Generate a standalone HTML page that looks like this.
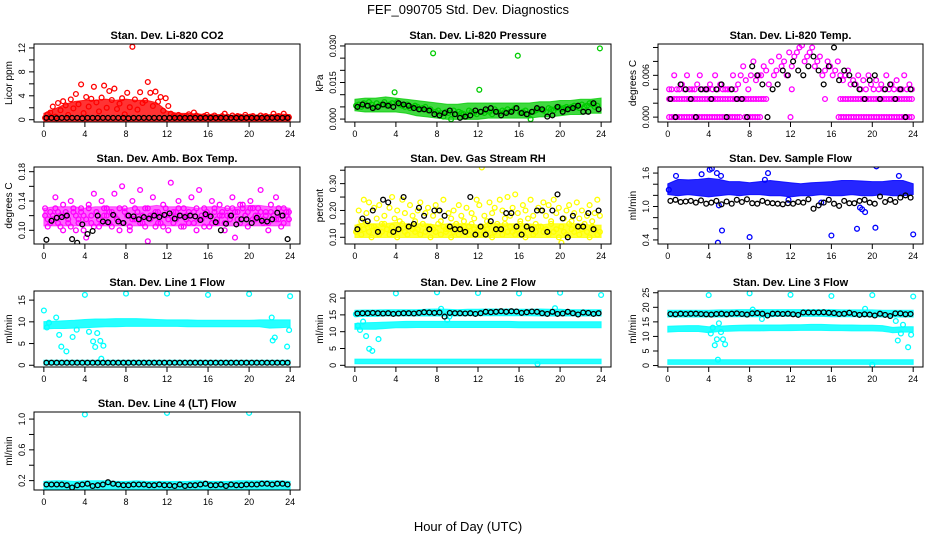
<!DOCTYPE html>
<html><head><meta charset="utf-8"><title>FEF_090705 Std. Dev. Diagnostics</title>
<style>
html,body{margin:0;padding:0;background:#fff;}
svg{display:block;font-family:"Liberation Sans",Arial,sans-serif;}
</style></head>
<body>
<svg id="fig" width="936" height="540" viewBox="0 0 936 540" xmlns="http://www.w3.org/2000/svg">
<rect x="0" y="0" width="936" height="540" fill="#fff"/>
<text x="468" y="14" text-anchor="middle" font-size="13">FEF_090705  Std. Dev. Diagnostics</text>
<text x="468" y="531" text-anchor="middle" font-size="13">Hour of Day (UTC)</text>
</svg>
<script>
const n = null;
// ---- x ticks (hours) ----
const hourTicks = [0,4,8,12,16,20,24];

// ---- CO2 ----
const co2BandLo = [0,0,0,0,0,0,0,0,0,0,0,0,0,0,0,0,0,0,0,0,0,0,0,0,0];
const co2BandHi = [0.8,1.5,2.3,2.8,3.0,3.0,3.2,3.0,3.2,3.0,3.0,2.6,1.2,0.8,0.8,0.7,0.6,0.6,0.5,0.6,0.6,0.5,0.6,0.7,0.6];
const co2Pts = [0.3,0.9,1.2,2.2,0.5,2.8,1.6,3.1,2.4,0.8,3.4,1.9,4.3,2.6,5.9,1.1,3.8,2.2,3.5,5.5,2.9,1.4,3.7,5.7,2.0,4.8,3.3,5.2,1.8,2.7,3.6,0.9,4.5,2.1,12.2,3.4,1.7,4.6,2.8,3.2,6.3,4.5,2.3,4.7,3.0,3.8,1.5,3.6,
2.3,1.0,0.6,0.4,0.8,0.5,0.3,0.6,0.9,0.4,1.2,0.7,0.5,0.3,0.6,0.8,0.4,0.5,0.7,0.3,0.4,0.6,1.0,0.5,0.3,0.7,0.4,0.6,0.5,0.3,0.8,0.4,0.5,0.6,0.3,0.4,0.7,0.5,0.6,0.3,0.4,1.0,0.5,0.6,0.3,1.0,0.5,0.4];
const co2Blk = [0.3,0.3,0.25,0.3,0.3,0.3,0.3,0.25,0.3,0.3,0.3,0.3,0.3,0.3,0.3,0.3,0.25,0.3,0.3,0.3,0.3,0.3,0.3,0.3,0.3,0.3,0.3,0.3,0.3,0.3,0.3,0.3,0.3,0.3,0.3,0.3,0.3,0.3,0.3,0.3,0.3,0.3,0.3,0.3,0.3,0.3,0.3,0.3];
const co2Ticks = [0,2,4,6,8,10,12];
const co2Labels = ["0","","4","","8","","12"];

// ---- Pressure ----
const presBandLo = [0.004,0.0035,0.0035,0.0035,0.0035,0.003,0.002,0.0015,0.001,0.0005,0.0005,0.0005,0.0005,0.001,0.001,0.001,0.001,0.001,0.0015,0.0015,0.002,0.0025,0.0025,0.003,0.003];
const presBandHi = [0.0075,0.008,0.008,0.0085,0.008,0.0075,0.007,0.0065,0.006,0.0055,0.0055,0.006,0.006,0.006,0.006,0.006,0.006,0.006,0.0065,0.0065,0.007,0.007,0.0075,0.0075,0.008];
const presPts = [.0055,.006,.005,.0065,.0055,.007,.006,.005,.0065,.0055,.006,.007,
.0055,.006,.0065,.011,.007,.006,.0055,.005,.006,.0045,.005,.0055,
.005,.004,.0045,.005,.0035,.004,.027,.003,.0035,.0025,.001,.003,
.0025,.0,.0035,.002,.003,.0025,.002,.001,.0035,.003,.0025,.002,
.012,.003,.0025,.0035,.003,.002,.004,.003,.0025,.0035,.003,.004,
.003,.0035,.0045,.026,.0025,.003,.0035,.002,.0,.003,.0035,.004,
.004,.0035,.003,.0045,.004,.0035,.0045,.005,.004,.0045,.005,.0045,
.005,.0055,.005,.0045,.006,.005,.0055,.0065,.006,.005,.0055,.029];
const presBlk = [.005,.006,.0055,.0045,.005,.006,.0055,.005,.0065,.006,.0055,.0045,.004,.004,.0035,.002,.0015,.0025,.0035,.002,.0005,.001,.0015,.0035,.003,.004,.0045,.003,.0015,.0025,.003,.0045,.0025,.002,.003,.0045,.004,.001,.0015,.005,.003,.004,.0045,.0055,.003,.003,.0065,.004];
const presTicks = [0,0.005,0.01,0.015,0.02,0.025,0.03];
const presLabels = ["0.000","","","0.015","","","0.030"];

// ---- Li-820 Temp ----
const tempPtsA = [.004,.004,.006,.004,.004,.0047,.004,.006,.004,.004,.004,.0047,.006,.004,.004,.004,.0047,.004,.006,.004,.0047,.004,.004,.004,
.004,.006,.004,.0047,.006,.0073,.0053,.004,.006,.008,.0053,.006,.006,.0073,.0067,.0047,.008,.006,.0067,.0087,.0073,.008,.006,.0093,
.0073,.0087,.0093,.01,.0103,.008,.0087,.0093,.01,.0073,.008,.0087,.006,.0067,.008,.0073,.006,.0067,.008,.006,.0053,.006,.0067,.0047,
.0053,.0047,.006,.004,.0053,.004,.006,.0047,.004,.0053,.004,.0047,.004,.006,.004,.0047,.004,.0053,.004,.004,.006,.004,.0047,.004];
const tempPtsB = [.0026,.0026,.0026,.0026,.0026,.0026,.0026,.0026,.0026,.0026,.0026,.0026,.0026,.0026,.0026,.0026,.0026,.0026,.0026,.0026,.0026,.0026,.0026,.0026,.0026,.0026,.0026,.0026,.0026,.0026,.0026,.0026,.0026,.0026,.0026,.0026,.0026,.0026,.0026,
n,n,n,n,n,n,n,n,n,.004,n,n,n,n,n,n,n,n,n,n,n,n,.0026,n,n,n,n,n,
.0026,.0026,.0026,.0026,.0026,.0026,.0026,.0026,.0026,.0026,.0026,.0026,.0026,.0026,.0026,.0026,.0026,.0026,.0026,.0026,.0026,.0026,.0026,.0026,.0026,.0026,.0026,.0026,.0026];
const tempPtsC = [0,0,0,0,0,0,0,0,0,0,0,0,0,0,0,0,0,0,0,0,0,0,0,0,0,0,0,0,0,n,0,0,0,0,0,0,0,
n,n,n,n,n,n,n,n,n,n,n,0,n,n,n,n,n,n,n,n,n,n,n,n,n,n,n,n,n,n,
0,0,0,0,0,0,0,0,0,0,0,0,0,0,0,0,0,0,0,0,0,0,0,0,0,0,0,0,0,0];
const tempBlk = [.0026,0,.0047,.004,.0026,0,.004,.004,.0026,.004,.0047,0,.004,.0026,.0026,0,.0073,.006,.0047,0,.004,.0047,.0067,.006,.008,.0067,.006,.0073,.0087,.0067,.0047,.0073,.01,.0053,.0067,.006,.0047,.004,.0026,.0053,.006,.0026,.004,.0047,.0026,.004,0,.004];
const tempTicks = [0,0.002,0.004,0.006,0.008,0.010];
const tempLabels = ["0.000","","","0.006","",""];

// ---- Amb Box Temp ----
const ambBandLo = [0.108,0.108,0.108,0.108,0.108,0.108,0.108,0.108,0.108,0.108,0.108,0.108,0.108,0.108,0.108,0.108,0.108,0.108,0.108,0.108,0.108,0.108,0.108,0.108,0.108];
const ambBandHi = [0.128,0.13,0.13,0.13,0.128,0.13,0.13,0.13,0.128,0.13,0.13,0.132,0.13,0.13,0.13,0.128,0.13,0.13,0.128,0.13,0.132,0.132,0.13,0.13,0.128];
const ambPtsA = [.13,.115,.11,.12,.145,.125,.105,.135,.12,.11,.14,.125,.1,.115,.13,.12,.09,.135,.11,.15,.125,.105,.14,.12,
.13,.11,.125,.15,.115,.1,.16,.13,.12,.105,.14,.115,.125,.155,.11,.13,.085,.12,.145,.105,.125,.11,.135,.12,
.1,.165,.125,.115,.14,.105,.13,.12,.11,.145,.125,.1,.155,.115,.13,.12,.105,.14,.125,.11,.135,.12,.1,.13,
.115,.145,.09,.125,.11,.135,.12,.105,.14,.13,.115,.12,.155,.11,.125,.1,.135,.12,.145,.115,.105,.13,.12,.125];
const ambPtsB = [.12,.105,.125,.115,.13,.11,.12,.1,.125,.115,.105,.13,.12,.11,.125,.1,.115,.13,.12,.105,.125,.115,.11,.13,
.12,.125,.105,.12,.115,.13,.11,.125,.12,.1,.115,.13,.125,.11,.12,.105,.13,.115,.12,.125,.11,.12,.105,.13,
.115,.12,.11,.125,.13,.12,.105,.115,.125,.12,.11,.13,.115,.12,.105,.125,.12,.11,.13,.115,.12,.125,.11,.12,
.12,.13,.125,.115,.135,.13,.12,.125,.13,.115,.12,.13,.125,.115,.12,.11,.125,.12,.115,.13,.12,.11,.125,.115];
const ambBlk = [.087,.113,.117,.118,.12,.088,.083,.108,.095,.099,.12,.112,.111,.121,.112,.11,.12,.119,.115,.118,.116,.12,.118,.121,.123,.116,.12,.118,.12,.119,.114,.122,.119,.111,.10,.109,.12,.108,.115,.115,.11,.117,.113,.112,.115,.124,.12,.088];
const ambTicks = [0.10,0.12,0.14,0.16,0.18];
const ambLabels = ["0.10","","0.14","","0.18"];

// ---- Gas Stream RH ----
const rhBandLo = [0.105,0.105,0.105,0.105,0.105,0.105,0.105,0.105,0.105,0.105,0.105,0.105,0.105,0.105,0.105,0.105,0.105,0.105,0.105,0.105,0.105,0.105,0.105,0.105,0.105];
const rhBandHi = [0.14,0.145,0.145,0.145,0.15,0.145,0.145,0.145,0.14,0.145,0.145,0.145,0.14,0.145,0.145,0.145,0.145,0.145,0.14,0.145,0.145,0.145,0.145,0.14,0.14];
const rhPtsA = [.12,.14,.11,.13,.15,.12,.1,.14,.13,.11,.12,.15,.13,.11,.14,.12,.1,.13,.15,.12,.11,.14,.13,.12,
.13,.11,.15,.12,.14,.1,.13,.12,.15,.11,.14,.12,.13,.1,.12,.15,.11,.13,.14,.12,.11,.15,.13,.12,
.11,.14,.12,.13,.15,.1,.12,.14,.13,.11,.15,.12,.14,.12,.11,.13,.15,.12,.1,.14,.13,.11,.12,.14,
.14,.12,.13,.11,.15,.12,.13,.1,.14,.12,.11,.15,.13,.12,.14,.11,.13,.15,.12,.1,.14,.13,.11,.12];
const rhPtsB = [.12,.2,.16,.24,.19,.23,.14,.21,.17,.22,.15,.18,.13,.21,.25,.17,.2,.16,.24,.19,.14,.22,.18,.16,
.2,.23,.15,.19,.21,.14,.18,.22,.2,.16,.24,.13,.19,.17,.2,.15,.22,.18,.16,.21,.14,.19,.17,.24,
.22,.36,.18,.16,.23,.19,.21,.15,.24,.2,.17,.25,.18,.21,.26,.19,.16,.22,.2,.17,.24,.18,.15,.21,
.2,.23,.18,.22,.16,.24,.19,.21,.08,.17,.2,.22,.16,.19,.23,.17,.2,.15,.18,.22,.16,.19,.24,.18];
const rhBlk = [.13,.17,.16,.2,.12,.24,.23,.12,.13,.25,.14,.15,.21,.18,.13,.2,.2,.18,.14,.13,.13,.12,.25,.11,.14,.11,.16,.13,.13,.19,.19,.14,.11,.14,.13,.2,.2,.12,.2,.26,.17,.1,.18,.14,.14,.19,.13,.2];
const rhTicks = [0.10,0.15,0.20,0.25,0.30,0.35];
const rhLabels = ["0.10","","0.20","","0.30",""];

// ---- Sample Flow ----
const sfBandLo = [1.24,1.22,1.24,1.22,1.2,1.22,1.24,1.22,1.24,1.24,1.22,1.22,1.2,1.22,1.22,1.24,1.22,1.22,1.24,1.22,1.22,1.24,1.22,1.22,1.24];
const sfBandHi = [1.38,1.46,1.45,1.46,1.48,1.46,1.42,1.42,1.4,1.42,1.44,1.42,1.4,1.38,1.4,1.41,1.42,1.44,1.44,1.43,1.42,1.42,1.44,1.44,1.38];
const sfOutX = [0.8,3.3,4.1,4.3,4.8,5.2,9.8,0.1,4.9,5.3,8.0,16.0,18.5,20.3,24.0,20.4,19.0,19.3,18.8,5.0,9.5,15.0,11.8,22.6];
const sfOutY = [1.55,1.58,1.66,1.68,1.6,1.55,1.6,1.3,0.35,0.57,0.45,0.48,0.6,0.62,0.5,1.72,0.95,0.9,0.98,1.02,1.48,1.07,1.12,1.55];
const sfBlk = [1.1,1.12,1.08,1.09,1.1,1.07,1.11,1.05,1.07,1.1,1.04,1.09,1.05,1.12,1.08,1.13,1.06,1.05,1.1,1.07,1.06,1.05,1.04,1.06,1.05,1.08,1.07,1.13,0.96,1.02,1.07,1.12,1.05,1.01,1.1,1.06,1.06,1.1,1.12,1.07,1.05,1.18,1.08,1.12,1.08,1.16,1.2,1.16];
const sfTicks = [0.4,0.6,0.8,1.0,1.2,1.4,1.6];
const sfLabels = ["0.4","","","1.0","","","1.6"];

// ---- Line 1 Flow ----
const l1HiBandLo = [8.7,8.8,8.8,8.9,9.0,9.1,9.2,9.2,9.3,9.3,9.3,9.3,9.3,9.3,9.2,9.2,9.2,9.2,9.2,9.2,9.2,9.2,8.9,9.0,9.1];
const l1HiBandHi = [9.7,9.8,9.9,10.0,10.2,10.3,10.3,10.4,10.4,10.4,10.3,10.2,10.1,10.1,10.1,10.0,10.0,10.0,10.0,10.0,10.0,10.1,10.1,10.1,10.1];
const l1LoBandLo = [0.4,0.4,0.4,0.4,0.4,0.4,0.4,0.4,0.4,0.4,0.4,0.4,0.4,0.4,0.4,0.4,0.4,0.4,0.4,0.4,0.4,0.4,0.4,0.4,0.4];
const l1LoBandHi = [0.8,0.8,0.8,0.8,0.8,0.8,0.8,0.8,0.8,0.8,0.8,0.8,0.8,0.8,0.8,0.8,0.8,0.8,0.8,0.8,0.8,0.8,0.8,0.8,0.8];
const l1OutX = [0.0,0.3,0.5,1.2,1.5,1.7,2.2,2.8,3.2,4.0,4.4,4.8,5.0,5.2,5.5,5.8,5.6,8.0,12.0,16.0,20.0,22.3,22.5,22.2,23.7,23.9,24.0];
const l1OutY = [12.6,8.7,9.8,11.0,7.0,4.3,3.2,6.5,8.2,16.2,7.7,5.5,4.2,7.4,5.6,4.5,1.5,16.5,16.5,16.2,16.4,5.7,6.4,11.0,4.3,8.1,15.9];
const l1Blk = [0.6,0.6,0.6,0.6,0.6,0.6,0.6,0.6,0.6,0.6,0.6,0.6,0.6,0.6,0.6,0.6,0.6,0.6,0.6,0.6,0.6,0.6,0.6,0.6,0.6,0.6,0.6,0.6,0.6,0.6,0.6,0.6,0.6,0.6,0.6,0.6,0.6,0.6,0.6,0.6,0.6,0.6,0.6,0.6,0.6,0.6,0.6,0.6];
const l1Ticks = [0,5,10,15];
const l1Labels = ["0","5","10","15"];

// ---- Line 2 Flow ----
const l2TopLo = [14.9,15.0,15.0,15.1,15.1,15.1,15.1,15.1,15.1,15.1,15.1,15.2,15.2,15.2,15.2,15.2,15.2,15.2,15.1,15.1,15.1,15.1,15.1,15.1,15.1];
const l2TopHi = [15.9,16.0,16.0,16.1,16.1,16.1,16.1,16.2,16.3,16.2,16.1,16.2,16.2,16.3,16.3,16.3,16.2,16.2,16.3,16.2,16.2,16.1,16.1,16.1,16.1];
const l2MidLo = [11.2,11.2,11.2,11.4,11.6,11.6,11.7,11.7,11.7,11.7,11.7,11.7,11.7,11.7,11.7,11.7,11.6,11.6,11.6,11.6,11.6,11.6,11.6,11.6,11.6];
const l2MidHi = [12.0,12.2,12.3,12.4,12.5,12.6,12.6,12.6,12.6,12.6,12.6,12.6,12.6,12.6,12.6,12.6,12.5,12.5,12.5,12.5,12.5,12.5,12.5,12.5,12.5];
const l2LowLo = [0.9,0.9,0.9,0.9,0.9,0.9,0.9,0.9,0.9,0.9,0.9,0.9,0.9,0.9,0.9,0.9,0.9,0.9,0.9,0.9,0.9,0.9,0.9,0.9,0.9];
const l2LowHi = [1.4,1.4,1.4,1.4,1.4,1.4,1.4,1.4,1.4,1.4,1.4,1.4,1.4,1.4,1.4,1.4,1.4,1.4,1.4,1.4,1.4,1.4,1.4,1.4,1.4];
const l2OutX = [0.1,0.3,0.5,0.8,1.1,1.4,1.7,2.3,4.0,8.0,12.0,16.0,20.0,24.0,8.4,9.2,19.5,9.0,17.8];
const l2OutY = [15.2,11.8,10.5,13.0,8.7,4.9,4.3,7.8,21.4,21.7,21.5,21.4,21.6,20.9,16.8,14.5,17.0,13.5,0.4];
const l2Blk = [15.4,15.5,15.5,15.6,15.5,15.4,15.5,15.3,15.4,15.5,15.5,15.4,15.6,15.8,15.7,15.6,15.7,14.5,15.6,15.5,15.5,15.4,15.5,15.3,15.5,15.9,15.8,15.9,16.1,15.9,16.1,16.0,15.6,15.8,16.0,15.9,15.5,15.3,15.9,15.3,15.4,15.9,15.5,15.1,15.7,15.6,15.3,15.5];
const l2Ticks = [0,5,10,15,20];
const l2Labels = ["0","5","10","15","20"];

// ---- Line 3 Flow ----
const l3TopLo = [17.2,17.2,17.2,17.2,17.2,17.2,17.3,17.3,17.3,17.3,17.3,17.4,17.4,17.4,17.4,17.4,17.3,17.3,17.3,17.3,17.3,17.2,17.2,17.2,17.2];
const l3TopHi = [18.5,18.5,18.5,18.5,18.5,18.6,18.6,18.7,18.7,18.7,18.7,18.7,18.7,18.7,18.7,18.7,18.7,18.6,18.6,18.6,18.6,18.5,18.5,18.5,18.5];
const l3MidLo = [12.0,12.2,12.2,12.2,11.8,12.2,12.3,12.4,12.4,12.4,12.5,12.5,12.5,12.6,12.6,12.6,12.5,12.5,12.4,12.4,12.4,12.3,11.8,12.0,12.0];
const l3MidHi = [13.0,13.1,13.2,13.2,12.8,13.0,13.2,13.3,13.4,13.4,13.4,13.4,13.5,13.5,13.6,13.6,13.5,13.4,13.4,13.3,13.3,13.2,12.6,12.8,12.8];
const l3LowLo = [0.9,0.9,0.9,0.9,0.9,0.9,0.9,0.9,0.9,0.9,0.9,0.9,0.9,0.9,0.9,0.9,0.9,0.9,0.9,0.9,0.9,0.9,0.9,0.9,0.9];
const l3LowHi = [1.5,1.5,1.5,1.5,1.5,1.5,1.5,1.5,1.5,1.5,1.5,1.5,1.5,1.5,1.5,1.5,1.5,1.5,1.5,1.5,1.5,1.5,1.5,1.5,1.5];
const l3OutX = [4.0,8.0,12.0,16.0,20.0,24.0,4.2,4.4,4.6,4.8,5.0,5.4,5.6,5.2,4.9,22.3,22.5,22.8,23.0,23.5,23.8,8.3,9.2,19.3,20.0];
const l3OutY = [24.2,24.8,24.3,23.9,24.2,23.7,11.0,13.0,7.0,9.0,14.5,9.0,7.3,11.5,2.0,15.3,8.6,11.0,14.0,6.3,10.6,19.2,16.0,19.5,0.3];
const l3Blk = [17.7,17.6,17.8,17.7,17.8,17.8,17.7,17.6,17.5,17.7,17.8,17.6,17.8,17.9,17.7,17.5,17.9,18.0,17.8,17.2,17.8,17.8,17.7,17.8,17.6,17.4,18.2,18.2,18.2,18.2,18.3,18.1,18.0,17.7,17.8,18.1,17.7,17.4,17.6,17.5,17.2,17.8,17.4,17.0,17.9,17.9,17.6,17.7];
const l3Ticks = [0,5,10,15,20,25];
const l3Labels = ["0","5","10","15","20","25"];

// ---- Line 4 (LT) Flow ----
const l4BandLo = [0.1,0.1,0.1,0.1,0.1,0.1,0.1,0.1,0.1,0.1,0.1,0.1,0.1,0.1,0.1,0.1,0.1,0.1,0.1,0.1,0.1,0.1,0.1,0.1,0.1];
const l4BandHi = [0.17,0.18,0.18,0.17,0.18,0.18,0.18,0.17,0.17,0.18,0.17,0.17,0.17,0.17,0.17,0.18,0.17,0.17,0.17,0.18,0.18,0.18,0.18,0.18,0.17];
const l4OutX = [4.0,12.0,20.0];
const l4OutY = [1.06,1.08,1.08];
const l4Blk = [0.15,0.15,0.15,0.15,0.14,0.11,0.14,0.15,0.16,0.13,0.14,0.15,0.18,0.16,0.15,0.14,0.14,0.15,0.15,0.15,0.14,0.14,0.15,0.14,0.14,0.13,0.15,0.13,0.14,0.14,0.15,0.16,0.14,0.14,0.15,0.13,0.15,0.14,0.14,0.15,0.15,0.15,0.16,0.16,0.15,0.16,0.16,0.15];
const l4Ticks = [0.2,0.4,0.6,0.8,1.0];
const l4Labels = ["0.2","","0.6","","1.0"];

const RED = "#ff0000", GRN = "#00cc00", MAG = "#ff00ff", YEL = "#ffff00", BLU = "#0000ff", CYA = "#00ffff";

const cols = [[34,300],[345,611],[658,923]];
const rows = [[44,122],[167,244],[291,367],[412,490]];

const panels = [
 {key:"co2", title:"Stan. Dev. Li-820 CO2", ylab:"Licor ppm", c:0, r:0, ylo:-0.38, yhi:12.66, ticks:co2Ticks, labels:co2Labels, color:RED, op:0.8,
  bands:[[co2BandLo,co2BandHi]], pts:[co2Pts], outX:null, outY:null, blk:co2Blk},
 {key:"pressure", title:"Stan. Dev. Li-820 Pressure", ylab:"kPa", c:1, r:0, ylo:-0.0012, yhi:0.0308, ticks:presTicks, labels:presLabels, color:GRN, op:0.75,
  bands:[[presBandLo,presBandHi]], pts:[presPts], outX:null, outY:null, blk:presBlk},
 {key:"li820-temp", title:"Stan. Dev. Li-820 Temp.", ylab:"degrees C", c:2, r:0, ylo:-0.0007, yhi:0.0105, ticks:tempTicks, labels:tempLabels, color:MAG, op:0.8,
  bands:[], pts:[tempPtsA,tempPtsB,tempPtsC], outX:null, outY:null, blk:tempBlk},
 {key:"amb-box-temp", title:"Stan. Dev. Amb. Box Temp.", ylab:"degrees C", c:0, r:1, ylo:0.0813, yhi:0.1864, ticks:ambTicks, labels:ambLabels, color:MAG, op:0.6,
  bands:[[ambBandLo,ambBandHi]], pts:[ambPtsA,ambPtsB], outX:null, outY:null, blk:ambBlk},
 {key:"gas-stream-rh", title:"Stan. Dev. Gas Stream RH", ylab:"percent", c:1, r:1, ylo:0.075, yhi:0.362, ticks:rhTicks, labels:rhLabels, color:YEL, op:0.8,
  bands:[[rhBandLo,rhBandHi]], pts:[rhPtsA,rhPtsB], outX:null, outY:null, blk:rhBlk},
 {key:"sample-flow", title:"Stan. Dev. Sample Flow", ylab:"ml/min", c:2, r:1, ylo:0.327, yhi:1.709, ticks:sfTicks, labels:sfLabels, color:BLU, op:0.85,
  bands:[[sfBandLo,sfBandHi]], pts:[], outX:sfOutX, outY:sfOutY, blk:sfBlk},
 {key:"line1-flow", title:"Stan. Dev. Line 1 Flow", ylab:"ml/min", c:0, r:2, ylo:-0.4, yhi:17.1, ticks:l1Ticks, labels:l1Labels, color:CYA, op:0.85,
  bands:[[l1HiBandLo,l1HiBandHi],[l1LoBandLo,l1LoBandHi]], pts:[], outX:l1OutX, outY:l1OutY, blk:l1Blk},
 {key:"line2-flow", title:"Stan. Dev. Line 2 Flow", ylab:"ml/min", c:1, r:2, ylo:-0.5, yhi:22.1, ticks:l2Ticks, labels:l2Labels, color:CYA, op:0.85,
  bands:[[l2TopLo,l2TopHi],[l2MidLo,l2MidHi],[l2LowLo,l2LowHi]], pts:[], outX:l2OutX, outY:l2OutY, blk:l2Blk},
 {key:"line3-flow", title:"Stan. Dev. Line 3 Flow", ylab:"ml/min", c:2, r:2, ylo:-0.5, yhi:25.6, ticks:l3Ticks, labels:l3Labels, color:CYA, op:0.85,
  bands:[[l3TopLo,l3TopHi],[l3MidLo,l3MidHi],[l3LowLo,l3LowHi]], pts:[], outX:l3OutX, outY:l3OutY, blk:l3Blk},
 {key:"line4-flow", title:"Stan. Dev. Line 4 (LT) Flow", ylab:"ml/min", c:0, r:3, ylo:0.078, yhi:1.092, ticks:l4Ticks, labels:l4Labels, color:CYA, op:0.85,
  bands:[[l4BandLo,l4BandHi]], pts:[], outX:l4OutX, outY:l4OutY, blk:l4Blk}
];

const NS = "http://www.w3.org/2000/svg";
const svg = document.getElementById("fig");
function mk(tag, attrs, parent){
  const e = document.createElementNS(NS, tag);
  for (const k in attrs) e.setAttribute(k, attrs[k]);
  parent.appendChild(e);
  return e;
}
function circ(g, x, y, color, name){
  const c = mk("circle", {cx:x.toFixed(1), cy:y.toFixed(1), r:2.4, fill:"none", stroke:color, "stroke-width":1.3}, g);
  
  
}

panels.forEach(p => {
  const L = cols[p.c][0], R = cols[p.c][1], T = rows[p.r][0], B = rows[p.r][1];
  const X = h => L + (h + 0.96) / 25.92 * (R - L);
  const Y = v => B - (v - p.ylo) / (p.yhi - p.ylo) * (B - T);
  const g = mk("g", {}, svg);
  
  

  const clipId = "clip-" + p.key;
  const cp = mk("clipPath", {id: clipId}, g);
  mk("rect", {x:L, y:T, width:R-L, height:B-T}, cp);
  const marks = mk("g", {"clip-path":"url(#" + clipId + ")"}, g);
  
  

  p.bands.forEach((bd, bi) => {
    const lo = bd[0], hi = bd[1];
    const m = lo.length - 1;
    let pts = [];
    for (let i = 0; i <= m; i++) pts.push(X(i*24/m).toFixed(1) + "," + (Y(hi[i]) - 1.5).toFixed(1));
    for (let i = m; i >= 0; i--) pts.push(X(i*24/m).toFixed(1) + "," + (Y(lo[i]) + 1.5).toFixed(1));
    const poly = mk("polygon", {points: pts.join(" "), fill: p.color, "fill-opacity": p.op, stroke: p.color, "stroke-width": 1, "stroke-opacity": p.op}, marks);
    
    
  });
  p.pts.forEach((arr, si) => {
    arr.forEach((v, i) => {
      if (v === null) return;
      circ(marks, X((i + 0.5) * 24 / arr.length), Y(v), p.color, p.key + '-point');
    });
  });
  if (p.outX) p.outX.forEach((h, i) => circ(marks, X(h), Y(p.outY[i]), p.color, p.key + '-outlier'));
  p.blk.forEach((v, i) => {
    if (v === null) return;
    circ(marks, X((i + 0.5) * 24 / p.blk.length), Y(v), "#000", p.key + '-reference-point');
  });

  const box = mk("rect", {x:L, y:T, width:R-L, height:B-T, fill:"none", stroke:"#000", "stroke-width":1}, g);
  
  

  const t = mk("text", {x:(L+R)/2, y:T-5, "text-anchor":"middle", "font-size":11, "font-weight":"bold"}, g);
  t.textContent = p.title;
  
  

  const xa = mk("g", {}, g);
  
  
  mk("line", {x1:X(0), x2:X(24), y1:B, y2:B, stroke:"#000"}, xa);
  hourTicks.forEach(h => {
    mk("line", {x1:X(h), x2:X(h), y1:B, y2:B+5, stroke:"#000"}, xa);
    const tl = mk("text", {x:X(h), y:B+15, "text-anchor":"middle", "font-size":9}, xa);
    tl.textContent = String(h);
    
    
  });

  const ya = mk("g", {}, g);
  
  
  mk("line", {x1:L, x2:L, y1:Y(p.ticks[0]), y2:Y(p.ticks[p.ticks.length-1]), stroke:"#000"}, ya);
  p.ticks.forEach((v, i) => {
    const yy = Y(v);
    mk("line", {x1:L-5, x2:L, y1:yy, y2:yy, stroke:"#000"}, ya);
    if (p.labels[i]) {
      const tl = mk("text", {x:L-9, y:yy, "text-anchor":"middle", "font-size":9, transform:"rotate(-90 " + (L-9) + " " + yy + ")"}, ya);
      tl.textContent = p.labels[i];
      
      
    }
  });
  const yl = mk("text", {x:L-22, y:(T+B)/2, "text-anchor":"middle", "font-size":10, transform:"rotate(-90 " + (L-22) + " " + ((T+B)/2) + ")"}, g);
  yl.textContent = p.ylab;
  
  
});
</script>
</body></html>
